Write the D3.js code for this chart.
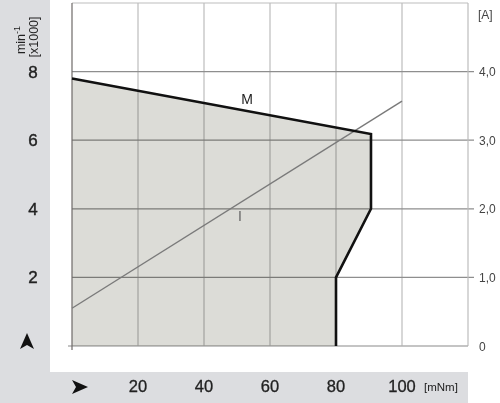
<!DOCTYPE html>
<html>
<head>
<meta charset="utf-8">
<script src="https://cdn.jsdelivr.net/npm/d3@7"></script>
<style>
  html, body { margin: 0; padding: 0; background: #fff; }
  svg { display: block; font-family: "Liberation Sans", Arial, sans-serif; }
</style>
</head>
<body>
<svg id="chart" width="500" height="403"></svg>
<script>
// torque [mNm] vs speed [min-1 x1000] operating envelope
const envTorque = [0, 90.6, 90.6, 80, 80];
const envSpeed = [7.8, 6.18, 4.0, 2.0, 0];
// current line I [A]
const curTorque = [0, 100];
const curAmps = [0.55, 3.57];

const xTicks = [20, 40, 60, 80, 100];
const xGrid = [20, 40, 60, 80, 100];
const yTicks = [2, 4, 6, 8];
const aTicks = [0, 1, 2, 3, 4];
const aLabels = ['0', '1,0', '2,0', '3,0', '4,0'];

const svg = d3.select('#chart');

const x = d3.scaleLinear().domain([0, 120]).range([72, 468]);
const y = d3.scaleLinear().domain([0, 10]).range([346, 3]);
const yA = d3.scaleLinear().domain([0, 5]).range([346, 3]);

// grey side panels
svg.append('rect').attr('x', 0).attr('y', 0).attr('width', 50).attr('height', 403).attr('fill', '#dcdde0');
svg.append('rect').attr('x', 0).attr('y', 372).attr('width', 468).attr('height', 31).attr('fill', '#dcdde0');

// envelope fill
const env = envTorque.map((t, i) => [t, envSpeed[i]]);
const area = d3.line().x(d => x(d[0])).y(d => y(d[1]));
svg.append('path')
  .attr('d', area([[0, 0], ...env]) + 'Z')
  .attr('fill', '#dcdcd7');

// grid
const grid = svg.append('g').style('mix-blend-mode', 'multiply');
grid.selectAll('.vg').data(xGrid).join('line')
  .attr('x1', d => x(d)).attr('x2', d => x(d))
  .attr('y1', y(10)).attr('y2', y(0))
  .attr('stroke', '#bdbdbd').attr('stroke-width', 1.2);
grid.selectAll('.hg').data(yTicks).join('line')
  .attr('x1', x(0)).attr('x2', x(120) + 6)
  .attr('y1', d => y(d)).attr('y2', d => y(d))
  .attr('stroke', '#8e8e8e').attr('stroke-width', 1.2);

// frame
grid.append('line').attr('x1', x(0)).attr('x2', x(120)).attr('y1', y(10)).attr('y2', y(10))
  .attr('stroke', '#bdbdbd').attr('stroke-width', 1.2);
grid.append('line').attr('x1', x(120)).attr('x2', x(120)).attr('y1', y(10)).attr('y2', y(0))
  .attr('stroke', '#bdbdbd').attr('stroke-width', 1.2);
grid.append('line').attr('x1', x(0) - 4).attr('x2', x(120)).attr('y1', y(0)).attr('y2', y(0))
  .attr('stroke', '#b0b0b0').attr('stroke-width', 1.5);
svg.append('line').attr('x1', x(0)).attr('x2', x(0)).attr('y1', y(10)).attr('y2', y(0) + 4)
  .attr('stroke', '#6e6a68').attr('stroke-width', 1.2);

// current line
svg.append('path')
  .attr('d', d3.line().x(d => x(d[0])).y(d => yA(d[1]))(curTorque.map((t, i) => [t, curAmps[i]])))
  .attr('fill', 'none').attr('stroke', '#7a7a7a').attr('stroke-width', 1.4);

// envelope outline
svg.append('path')
  .attr('d', area(env))
  .attr('fill', 'none').attr('stroke', '#111').attr('stroke-width', 2.6)
  .attr('stroke-linejoin', 'miter');

// curve labels
svg.append('text').attr('x', 247).attr('y', 104).attr('text-anchor', 'middle')
  .attr('font-size', 14).attr('fill', '#222').text('M');
svg.append('text').attr('x', 240).attr('y', 221).attr('text-anchor', 'middle')
  .attr('font-size', 14).attr('fill', '#666').text('I');

// left axis labels
svg.selectAll('.yl').data(yTicks).join('text')
  .attr('x', 33).attr('y', d => y(d) + 6)
  .attr('text-anchor', 'middle').attr('font-size', 17).attr('fill', '#222')
  .attr('stroke', '#222').attr('stroke-width', 0.4)
  .text(d => d);

const yt = svg.append('text').attr('transform', 'translate(25,40) rotate(-90)')
  .attr('text-anchor', 'middle').attr('font-size', 12.5).attr('fill', '#222');
yt.append('tspan').text('min');
yt.append('tspan').attr('dy', -5).attr('font-size', 9).text('-1');
svg.append('text').attr('transform', 'translate(38,37) rotate(-90)')
  .attr('text-anchor', 'middle').attr('font-size', 12.5).attr('fill', '#222').text('[x1000]');

// bottom axis labels
svg.selectAll('.xl').data(xTicks).join('text')
  .attr('x', d => x(d)).attr('y', 392)
  .attr('text-anchor', 'middle').attr('font-size', 16.5).attr('fill', '#222')
  .attr('stroke', '#222').attr('stroke-width', 0.3)
  .text(d => d);
svg.append('text').attr('x', 424).attr('y', 391).attr('text-anchor', 'start')
  .attr('font-size', 11.5).attr('fill', '#222').text('[mNm]');

// arrows
svg.append('path').attr('d', 'M27,333 L34,349 L27,345 L20,349 Z').attr('fill', '#111');
svg.append('path').attr('d', 'M88,387 L72,380 L76,387 L72,394 Z').attr('fill', '#111');

// right axis labels
svg.selectAll('.al').data(aTicks).join('text')
  .attr('x', 479).attr('y', d => yA(d) + 4.5)
  .attr('text-anchor', 'start').attr('font-size', 12).attr('fill', '#444')
  .text((d, i) => aLabels[i]);
svg.append('text').attr('x', 478).attr('y', 19).attr('font-size', 12).attr('fill', '#444').text('[A]');
</script>
</body>
</html>
